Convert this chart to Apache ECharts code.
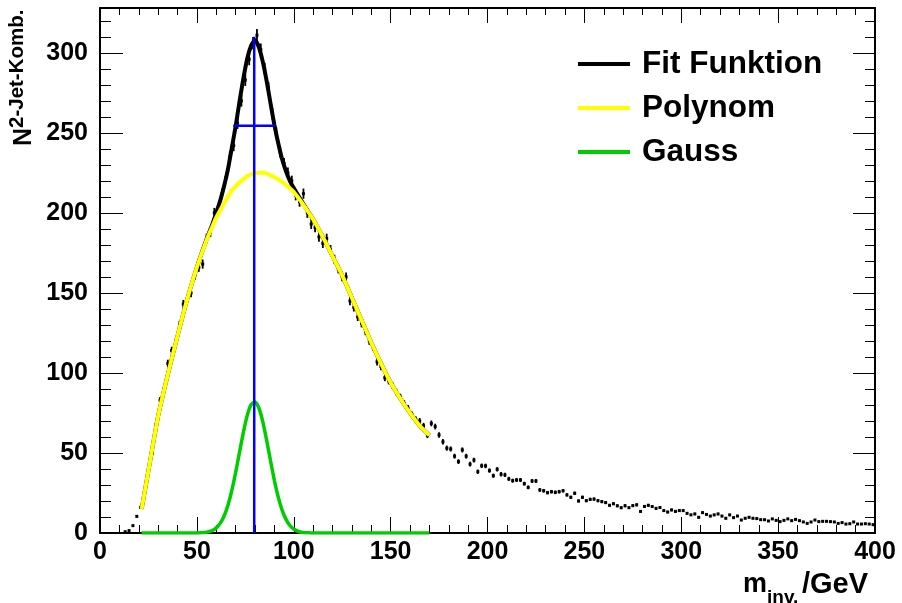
<!DOCTYPE html>
<html><head><meta charset="utf-8">
<script src="https://cdn.jsdelivr.net/npm/echarts@6/dist/echarts.min.js"></script>
<style>html,body{margin:0;padding:0;background:#fff}#c{width:902px;height:603px}</style>
</head><body><div id="c"></div>
<script>
// ---- data ----
const binFirstCenter = 13, binWidth = 2;
const histY = [
 0.8,1.5,4.6,10.4,
 16,27,38,50,68,83,90,106,114,119,
 130,143,146,150,161,166,168,184,188,200,
 202,212,222,235,242,256,270,283,296,306,
 311,302,290,278,262,250,238,231,225,220,
 211,207,212,200,193,191,185,181,184,177,
 171,165,160,160,145,141,135,131,126,120,
 116,107,104,97,95,92,88,85,81,78,
 74,71,70,67,61,
 68.5,66.5,61.3,57,53,52.5,48,44.6,51.9,48,
 43,45.6,38.3,42,41.9,39,35.8,39.8,36.7,36.3,
 33.8,32.7,33.1,33.1,30.8,28.5,32.5,32.5,26.9,26.4,
 25.2,25.8,25.4,25.8,26.4,23.8,22.3,24.8,20,22.3,
 20.2,21,21.2,20.2,19.6,19,17.3,18.3,17,15.8,
 17,15.8,17.1,17.6,13.5,16.6,17.3,16.5,15.4,15.9,
 14.0,13.1,14.4,13.5,14.0,14.0,12.3,11.3,11.9,9.8,
 12.7,11.6,10.6,11.3,11.9,10.6,9.2,11.3,9.6,10.6,
 8.1,9.2,9.8,9.2,9.0,8.3,8.3,7.5,8.8,7.9,
 7.1,7.9,8.8,7.7,8.5,7.7,6.9,6.0,6.9,8.1,
 7.1,7.3,7.3,7.1,6.9,6.0,6.5,5.6,5.8,6.9,
 5.6,5.6,5.8,5.6,5.2
];
const histX = histY.map((_, i) => binFirstCenter + i * binWidth);

const polyX = [21.5,25,30,35,40,45,50,55,58,60,62,64,66,68,70,72,74,76,78,80,82,84,86,88,90,92,94,96,98,100,105,110,115,120,125,130,135,140,145,150,155,160,165,170];
const polyY = [15,39,73,99,123,146,166,183,191.5,197,201.5,206,210,214,216.5,219,221,223,224,224.8,225,225,224.5,223.5,222.3,221,219.3,217.5,215.3,213,205,196,185,173,161,147,133,119,106,94,84,75,67,61];
const fitY  = [15,39,73,99,123,146,166,183.5,193,200,207.5,216.5,227,240.5,254,269.5,284,296.5,304.5,308,303.5,294.5,282.5,268.5,255,243.5,233.5,226,220,215.5,205.5,196,185,173,161,147,133,119,106,94,84,75,67,61];

const gaussX = [21.5,40,50,54,56,58,60,62,64,66,68,70,72,74,76,78,80,82,84,86,88,90,92,94,96,98,100,102,104,106,108,110,130,150,170];
const gaussY = [0,0,0,0.3,0.75,1.6,3.2,6,10.5,17.2,26.4,37.7,50.4,62.9,73.5,80.2,81.9,78.1,69.6,58,45.2,32.9,22.4,14.3,8.5,4.7,2.5,1.2,0.5,0.2,0.1,0,0,0,0];

const meanX = 79.6, meanTop = 310;
const widthLevel = 254.4, widthLeft = 68.8, widthRight = 90.3;

const xTicks = {min:0, max:400, interval:50};
const yRange = {min:0, max:328};

// ---- chart ----
const FONT = '"Liberation Sans", Arial, Helvetica, sans-serif';
const chart = echarts.init(document.getElementById('c'), null, {renderer:'canvas'});
const gridRect = {left:100, right:27, top:8, bottom:70};
const pair = (xs, ys) => xs.map((x, i) => [x, ys[i]]);

const option = {
  animation:false,
  backgroundColor:'#fff',
  grid:[Object.assign({}, gridRect), Object.assign({}, gridRect)],
  xAxis:[
    {type:'value', gridIndex:0, position:'bottom', min:xTicks.min, max:xTicks.max, interval:xTicks.interval,
     axisLine:{show:true, onZero:false, lineStyle:{color:'#000', width:2}},
     axisTick:{show:true, inside:true, length:16, lineStyle:{color:'#000', width:1}},
     minorTick:{show:true, splitNumber:5, length:8, lineStyle:{color:'#000', width:1}},
     splitLine:{show:false},
     axisLabel:{show:true, margin:7, color:'#000', fontSize:25, fontWeight:'bold', fontFamily:FONT}},
    {type:'value', gridIndex:0, position:'top', min:xTicks.min, max:xTicks.max, interval:xTicks.interval,
     axisLine:{show:true, onZero:false, lineStyle:{color:'#000', width:2}},
     axisTick:{show:true, inside:true, length:15, lineStyle:{color:'#000', width:1}},
     minorTick:{show:true, splitNumber:5, length:7, lineStyle:{color:'#000', width:1}},
     splitLine:{show:false}, axisLabel:{show:false}},
    {type:'value', gridIndex:1, min:xTicks.min, max:xTicks.max, show:false}
  ],
  yAxis:[
    {type:'value', gridIndex:0, position:'left', min:yRange.min, max:yRange.max, interval:50,
     axisLine:{show:true, onZero:false, lineStyle:{color:'#000', width:2}},
     axisTick:{show:true, inside:true, length:23, lineStyle:{color:'#000', width:1}},
     splitLine:{show:false},
     axisLabel:{show:true, margin:12, showMaxLabel:false, color:'#000', fontSize:25, fontWeight:'bold', fontFamily:FONT}},
    {type:'value', gridIndex:0, position:'right', min:yRange.min, max:yRange.max, interval:50,
     axisLine:{show:true, onZero:false, lineStyle:{color:'#000', width:2}},
     axisTick:{show:true, inside:true, length:22, lineStyle:{color:'#000', width:1}},
     splitLine:{show:false}, axisLabel:{show:false}},
    {type:'value', gridIndex:1, position:'left', min:yRange.min, max:yRange.max, interval:10,
     axisLine:{show:false}, axisTick:{show:true, inside:true, length:11, lineStyle:{color:'#000', width:1}},
     splitLine:{show:false}, axisLabel:{show:false}},
    {type:'value', gridIndex:1, position:'right', min:yRange.min, max:yRange.max, interval:10,
     axisLine:{show:false}, axisTick:{show:true, inside:true, length:10, lineStyle:{color:'#000', width:1}},
     splitLine:{show:false}, axisLabel:{show:false}}
  ],
  legend:{
    data:['Fit Funktion','Polynom','Gauss'],
    orient:'vertical', left:578, top:48, itemWidth:52, itemHeight:4, itemGap:12, icon:'rect',
    padding:0, selectedMode:false,
    textStyle:{fontSize:31.5, fontWeight:'bold', fontFamily:FONT, color:'#000', padding:[0,0,0,7]}
  },
  series:[
    {type:'custom', name:'Daten', xAxisIndex:0, yAxisIndex:0, z:1, silent:true,
     data: pair(histX, histY),
     renderItem:function(params, api){
       const x = api.value(0), y = api.value(1);
       const e = 0.22 * Math.sqrt(y);
       const p = api.coord([x, y]);
       const lo = api.coord([x, y - e]), hi = api.coord([x, y + e]);
       return {type:'group', children:[
         {type:'line', shape:{x1:p[0], y1:lo[1], x2:p[0], y2:hi[1]}, style:{stroke:'#000', lineWidth:1.8}},
         {type:'rect', shape:{x:p[0]-1.5, y:p[1]-1.5, width:3, height:3}, style:{fill:'#000'}}
       ]};
     }},
    {type:'line', name:'Fit Funktion', xAxisIndex:0, yAxisIndex:0, z:2, data:pair(polyX, fitY),
     smooth:0.2, showSymbol:false, symbol:'none', lineStyle:{color:'#000', width:4}, itemStyle:{color:'#000'}},
    {type:'line', name:'Polynom', xAxisIndex:0, yAxisIndex:0, z:3, data:pair(polyX, polyY),
     smooth:0.2, showSymbol:false, symbol:'none', lineStyle:{color:'#ffff00', width:4}, itemStyle:{color:'#ffff00'}},
    {type:'line', name:'Gauss', xAxisIndex:0, yAxisIndex:0, z:4, data:pair(gaussX, gaussY),
     smooth:0.2, showSymbol:false, symbol:'none', lineStyle:{color:'#00cc00', width:3.5}, itemStyle:{color:'#00cc00'}},
    {type:'line', name:'Mittelwert', xAxisIndex:0, yAxisIndex:0, z:5, data:[[meanX,0],[meanX,meanTop]],
     showSymbol:false, symbol:'none', lineStyle:{color:'#0000ff', width:2.5}, silent:true},
    {type:'line', name:'Breite', xAxisIndex:0, yAxisIndex:0, z:5, data:[[widthLeft,widthLevel],[widthRight,widthLevel]],
     showSymbol:false, symbol:'none', lineStyle:{color:'#0000ff', width:2.5}, silent:true}
  ],
  graphic:[
    {type:'text', x:24, y:146, rotation:Math.PI/2, silent:true,
     style:{text:'N', fontSize:25, fontWeight:'bold', fontFamily:FONT, fill:'#000', align:'left', verticalAlign:'middle'}},
    {type:'text', x:17, y:128, rotation:Math.PI/2, silent:true,
     style:{text:'2-Jet-Komb.', fontSize:20.5, fontWeight:'bold', fontFamily:FONT, fill:'#000', align:'left', verticalAlign:'middle'}},
    {type:'text', x:767, y:585, silent:true,
     style:{text:'m', fontSize:27, fontWeight:'bold', fontFamily:FONT, fill:'#000', align:'right', verticalAlign:'middle'}},
    {type:'text', x:767, y:598, silent:true,
     style:{text:'inv.', fontSize:19, fontWeight:'bold', fontFamily:FONT, fill:'#000', align:'left', verticalAlign:'middle'}},
    {type:'text', x:868, y:585, silent:true,
     style:{text:'/GeV', fontSize:29, fontWeight:'bold', fontFamily:FONT, fill:'#000', align:'right', verticalAlign:'middle'}}
  ]
};
chart.setOption(option);
</script>
</body></html>
